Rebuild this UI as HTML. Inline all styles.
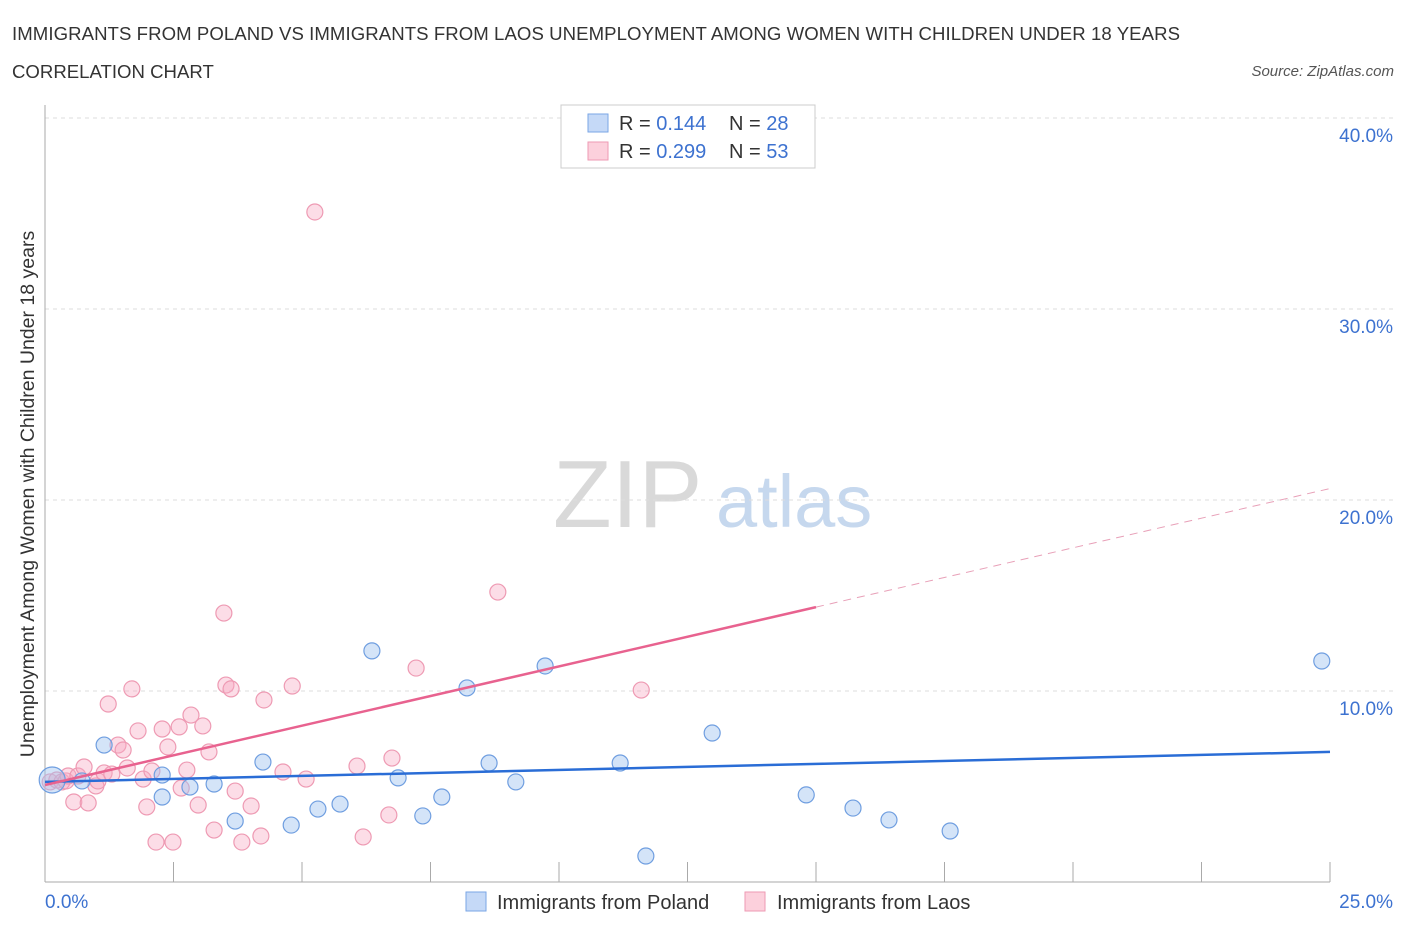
<!DOCTYPE html>
<html><head><meta charset="utf-8"><style>
body{margin:0;background:#fff;font-family:"Liberation Sans",sans-serif;}
svg text{font-family:"Liberation Sans",sans-serif;}
</style></head><body>
<svg id="chart" width="1406" height="930" xmlns="http://www.w3.org/2000/svg">
<text x="12" y="40" font-size="18.6" fill="#333" textLength="1168">IMMIGRANTS FROM POLAND VS IMMIGRANTS FROM LAOS UNEMPLOYMENT AMONG WOMEN WITH CHILDREN UNDER 18 YEARS</text>
<text x="12" y="78" font-size="18.6" fill="#333">CORRELATION CHART</text>
<text x="1394" y="76" font-size="15" fill="#555" text-anchor="end" font-style="italic">Source: ZipAtlas.com</text>
<g>
<text x="553" y="527" font-size="96" fill="#d9d9d9" font-family="Liberation Serif,serif">ZIP</text>
<text x="716" y="527" font-size="74" fill="#c6d8ee">atlas</text>
</g>
<g id="grid"></g>
<g id="axes"></g>
<g id="marks"></g>
<g>
<rect x="561" y="105" width="254" height="63" fill="#fff" stroke="#ccc"/>
<rect x="588" y="114" width="20" height="18" fill="#c5d9f7" stroke="#7aa6e6"/>
<rect x="588" y="142" width="20" height="18" fill="#fcd0dc" stroke="#ee9ab3"/>
<text x="619" y="130" font-size="20" fill="#333">R = <tspan fill="#3d72d0">0.144</tspan></text>
<text x="729" y="130" font-size="20" fill="#333">N = <tspan fill="#3d72d0">28</tspan></text>
<text x="619" y="158" font-size="20" fill="#333">R = <tspan fill="#3d72d0">0.299</tspan></text>
<text x="729" y="158" font-size="20" fill="#333">N = <tspan fill="#3d72d0">53</tspan></text>
</g>
<g>
<rect x="466" y="892" width="20" height="19" fill="#c5d9f7" stroke="#7aa6e6"/>
<text x="497" y="909" font-size="20" fill="#333">Immigrants from Poland</text>
<rect x="745" y="892" width="20" height="19" fill="#fcd0dc" stroke="#ee9ab3"/>
<text x="777" y="909" font-size="20" fill="#333">Immigrants from Laos</text>
</g>
<text transform="translate(34,494) rotate(-90)" font-size="19.5" fill="#333" text-anchor="middle">Unemployment Among Women with Children Under 18 years</text>
</svg>
<script>
const yTicks=[10,20,30,40];
const yTickLabels=["10.0%","20.0%","30.0%","40.0%"];
const xTickLabels=["0.0%","25.0%"];
const polandX=[0.14,0.72,1.15,2.28,2.28,2.82,3.29,3.70,4.24,4.79,5.31,5.74,6.36,6.87,7.35,7.72,8.21,8.64,9.16,9.73,11.19,11.69,12.98,14.81,15.72,16.42,17.61,24.84];
const polandY=[5.34,5.29,7.17,5.60,4.45,4.97,5.13,3.19,6.28,2.98,3.82,4.08,12.10,5.45,3.46,4.45,10.16,6.23,5.24,11.31,6.23,1.36,7.80,4.56,3.87,3.25,2.67,11.57];
const laosX=[0.10,0.23,0.33,0.41,0.45,0.56,0.64,0.76,0.84,0.99,1.03,1.15,1.23,1.30,1.42,1.52,1.60,1.69,1.81,1.91,1.98,2.08,2.16,2.28,2.39,2.49,2.61,2.65,2.76,2.84,2.98,3.07,3.19,3.29,3.48,3.52,3.62,3.70,3.83,4.01,4.20,4.26,4.63,4.81,5.08,5.25,6.07,6.19,6.69,6.75,7.22,8.81,11.60];
const laosY=[5.24,5.34,5.24,5.29,5.55,4.19,5.55,6.02,4.14,5.03,5.29,5.71,9.32,5.65,7.17,6.91,5.97,10.11,7.91,5.39,3.93,5.81,2.09,8.01,7.07,2.09,8.12,4.92,5.86,8.74,4.03,8.17,6.81,2.72,14.08,10.31,10.11,4.76,2.09,3.98,2.41,9.53,5.76,10.26,5.39,35.08,6.07,2.36,3.51,6.49,11.20,15.18,10.05];
const polandTrend=[5.24,6.81];
const laosTrend=[5.08,20.6];
const laosSolidEnd=15.0;

const NS="http://www.w3.org/2000/svg";
const X=v=>45+v/25*1285;
const Y=v=>882-v/10*191;
function mk(tag,attrs,parent){const e=document.createElementNS(NS,tag);for(const k in attrs)e.setAttribute(k,attrs[k]);parent.appendChild(e);return e;}
const grid=document.getElementById('grid'),axes=document.getElementById('axes'),marks=document.getElementById('marks');
yTicks.forEach((t,i)=>{
  const l=mk('line',{x1:45,x2:1395,y1:Y(t),y2:Y(t),stroke:'#ddd','stroke-dasharray':'4,4'},grid);
  
  
  const tx=mk('text',{x:1393,y:Y(t)+24,'font-size':19,fill:'#3d72d0','text-anchor':'end'},axes);
  tx.textContent=yTickLabels[i];
  
  
});
const ax=mk('line',{x1:45,x2:1330,y1:882,y2:882,stroke:'#aaa'},axes);


const ay=mk('line',{x1:45,x2:45,y1:105,y2:882,stroke:'#aaa'},axes);


for(let i=1;i<=10;i++){
  const t=mk('line',{x1:X(i*2.5),x2:X(i*2.5),y1:862,y2:882,stroke:'#aaa'},axes);
  
  
}
const xl0=mk('text',{x:45,y:908,'font-size':19,fill:'#3d72d0'},axes);xl0.textContent=xTickLabels[0];


const xl1=mk('text',{x:1393,y:908,'font-size':19,fill:'#3d72d0','text-anchor':'end'},axes);xl1.textContent=xTickLabels[1];



laosX.forEach((x,i)=>{
  const c=mk('circle',{cx:X(x),cy:Y(laosY[i]),r:8,fill:'rgba(248,170,195,0.4)',stroke:'#ee9ab3','stroke-width':1.2},marks);
  
  
});
polandX.forEach((x,i)=>{
  const c=mk('circle',{cx:X(x),cy:Y(polandY[i]),r:i===0?13:8,fill:'rgba(160,195,240,0.45)',stroke:'#6f9ee0','stroke-width':1.2},marks);
  
  
});
const pt=mk('line',{x1:X(0),y1:Y(polandTrend[0]),x2:X(25),y2:Y(polandTrend[1]),stroke:'#2a6dd6','stroke-width':2.5},marks);


const slope=(laosTrend[1]-laosTrend[0])/25;
const ls=mk('line',{x1:X(0),y1:Y(laosTrend[0]),x2:X(laosSolidEnd),y2:Y(laosTrend[0]+slope*laosSolidEnd),stroke:'#e8628f','stroke-width':2.5},marks);


const ld=mk('line',{x1:X(laosSolidEnd),y1:Y(laosTrend[0]+slope*laosSolidEnd),x2:X(25),y2:Y(laosTrend[1]),stroke:'#e8a0b8','stroke-width':1,'stroke-dasharray':'8,6'},marks);


</script>
</body></html>
